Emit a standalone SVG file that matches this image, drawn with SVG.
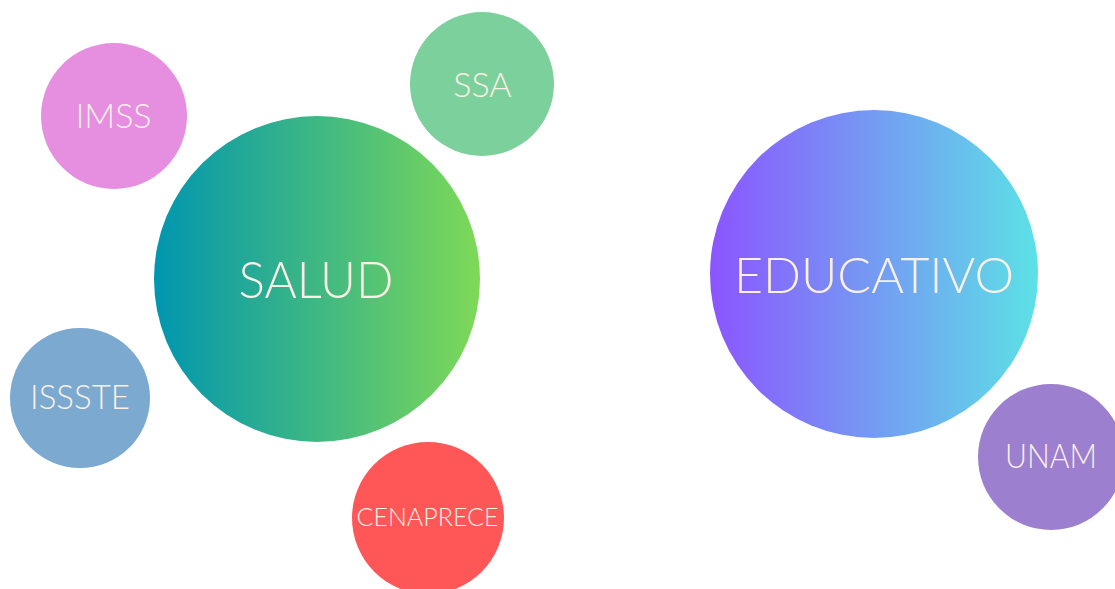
<svg xmlns="http://www.w3.org/2000/svg" width="1115" height="589" viewBox="0 0 1115 589">
  <style>
    .lbl { font-family: "Lato", "Liberation Sans", sans-serif; font-weight: 300; fill: #fbf0e6; text-anchor: middle; }
  </style>
  <defs>
    <linearGradient id="gSalud" x1="0" y1="0" x2="1" y2="0">
      <stop offset="0" stop-color="#0096b0"/>
      <stop offset="1" stop-color="#7ed957"/>
    </linearGradient>
    <linearGradient id="gEdu" x1="0" y1="0" x2="1" y2="0">
      <stop offset="0" stop-color="#8c55ff"/>
      <stop offset="1" stop-color="#5ce1e6"/>
    </linearGradient>
  </defs>
  <rect width="1115" height="589" fill="#ffffff"/>
  <g id="connectors"></g>
  <g id="imss">
    <circle cx="114" cy="116" r="73" fill="#e68ee0"/>
    <text class="lbl" x="113.5" y="128" font-size="34">IMSS</text>
  </g>
  <g id="ssa">
    <circle cx="482" cy="84" r="72" fill="#7cd09c"/>
    <text class="lbl" x="482.5" y="97" font-size="34">SSA</text>
  </g>
  <g id="salud">
    <circle cx="317" cy="279" r="163" fill="url(#gSalud)"/>
    <text class="lbl" x="316" y="298" font-size="52" textLength="155" lengthAdjust="spacingAndGlyphs">SALUD</text>
  </g>
  <g id="issste">
    <circle cx="80" cy="398" r="70" fill="#7ba9d0"/>
    <text class="lbl" x="80" y="409" font-size="33">ISSSTE</text>
  </g>
  <g id="cenaprece">
    <circle cx="428" cy="518" r="76" fill="#ff5757"/>
    <text class="lbl" x="427.5" y="526" font-size="25">CENAPRECE</text>
  </g>
  <g id="educativo">
    <circle cx="874" cy="274" r="164" fill="url(#gEdu)"/>
    <text class="lbl" x="874" y="293" font-size="50">EDUCATIVO</text>
  </g>
  <g id="unam">
    <circle cx="1051" cy="457" r="73" fill="#9c7fcf"/>
    <text class="lbl" x="1051" y="468" font-size="33" textLength="92" lengthAdjust="spacingAndGlyphs">UNAM</text>
  </g>
</svg>
